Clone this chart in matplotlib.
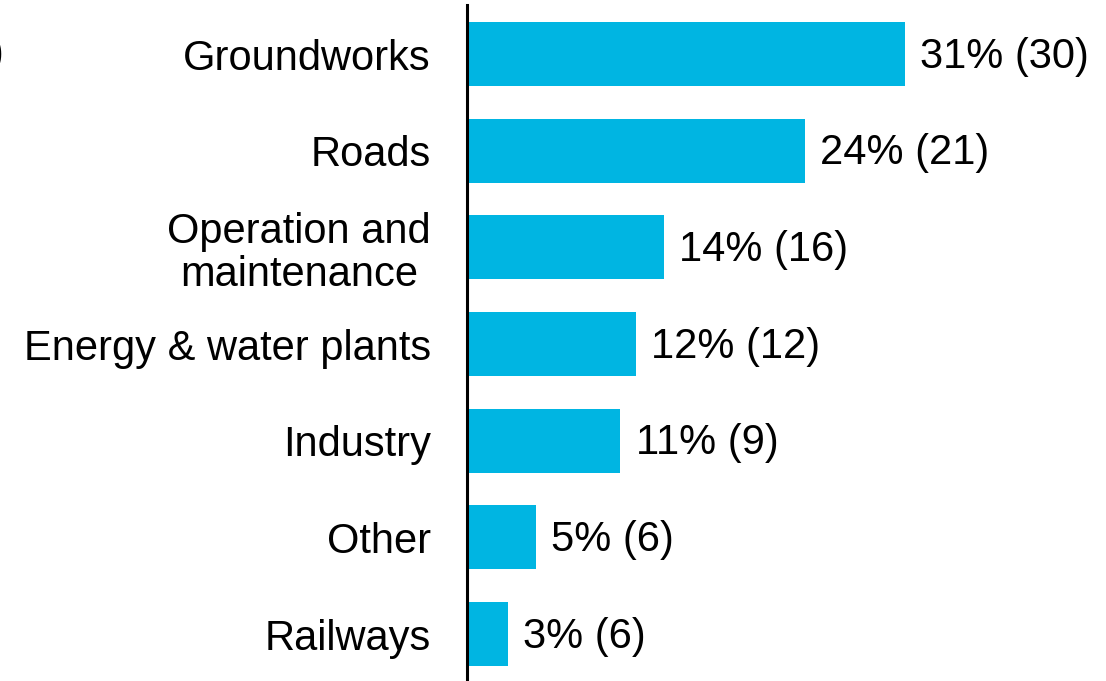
import matplotlib
matplotlib.use('Agg')
import matplotlib.pyplot as plt

# data
categories = ['Groundworks', 'Roads', 'Operation and\nmaintenance',
              'Energy & water plants', 'Industry', 'Other', 'Railways']
shares = [31.1, 24.0, 14.0, 12.0, 10.9, 4.9, 2.9]
pct_labels = ['31%', '24%', '14%', '12%', '11%', '5%', '3%']
counts = [30, 21, 16, 12, 9, 6, 6]

plt.rcParams['font.family'] = ['Liberation Sans', 'DejaVu Sans']

fig = plt.figure(figsize=(11.06, 6.81), dpi=100)
ax = fig.add_axes([467 / 1106, 0, 1 - 467 / 1106, 1 - 5 / 681])

pos = list(range(len(categories)))
ax.barh(pos, shares, height=0.66, color='#00B5E2')

for p, s, pl, c in zip(pos, shares, pct_labels, counts):
    ax.annotate(f'{pl} ({c})', (s, p), xytext=(11, -2), textcoords='offset points',
                ha='left', va='center', fontsize=30)

ax.set_xlim(0, 45.4)
ax.set_ylim(6.486, -0.507)
ax.set_yticks(pos)
ax.set_yticklabels(categories, fontsize=30, multialignment='center', linespacing=1.1)
ax.tick_params(axis='y', length=0, pad=26)
ax.set_xticks([])
for side in ['top', 'right', 'bottom']:
    ax.spines[side].set_visible(False)
ax.spines['left'].set_linewidth(2.2)

# cut-off text from the neighbouring panel
fig.text(4 / 1106, 1 - 54 / 681, ')', ha='right', va='center', fontsize=30)

fig.savefig('out.png', dpi=100)
